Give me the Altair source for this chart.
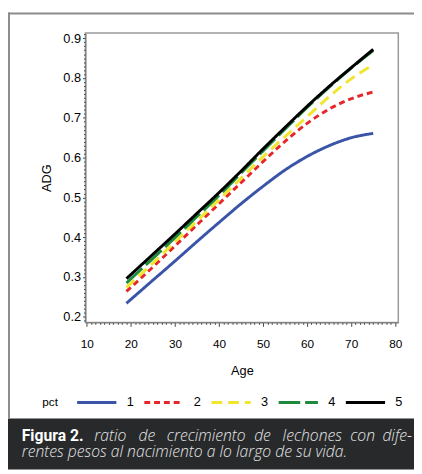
import altair as alt
import pandas as pd

# ---- data ----
ages = [19, 25, 30, 35, 40, 45, 50, 55, 60, 65, 70, 75]
pct1 = [0.234, 0.292, 0.340, 0.389, 0.437, 0.484, 0.528, 0.569, 0.603, 0.630, 0.650, 0.661]
pct2 = [0.264, 0.325, 0.378, 0.431, 0.484, 0.537, 0.590, 0.641, 0.686, 0.722, 0.748, 0.765]
pct3 = [0.274, 0.335, 0.388, 0.441, 0.494, 0.548, 0.602, 0.653, 0.703, 0.753, 0.798, 0.833]
pct4 = [0.285, 0.347, 0.399, 0.452, 0.505, 0.561, 0.617, 0.672, 0.726, 0.777, 0.825, 0.869]
pct5 = [0.296, 0.357, 0.408, 0.460, 0.512, 0.566, 0.622, 0.676, 0.729, 0.779, 0.826, 0.872]

series_names = ["1", "2", "3", "4", "5"]
series_colors = ["#3a55a8", "#e5262b", "#f0e62e", "#1d8a3c", "#000000"]
series_dashes = [[1, 0], [6, 4], [11, 6], [22, 5], [1, 0]]

x_minor = list(range(10, 81))
y_minor = [round(0.19 + 0.01 * i, 2) for i in range(73)]

legend_title = "pct"
caption_bold = "Figura 2."
caption_line1_words = ["ratio", "de", "crecimiento", "de", "lechones", "con", "dife-"]
caption_line2 = "rentes pesos al nacimiento a lo largo de su vida."

rows = []
for name, vals in zip(series_names, [pct1, pct2, pct3, pct4, pct5]):
    for a, v in zip(ages, vals):
        rows.append({"Age": a, "ADG": v, "pct": name})
df = pd.DataFrame(rows)

W, H = 319, 295
FONT = "Liberation Sans"

legend = alt.Legend(
    orient="none", direction="horizontal", legendX=-10, legendY=355,
    title=None,
    symbolType="stroke", symbolSize=1600, symbolStrokeWidth=3,
    labelFont=FONT, labelFontSize=13, labelColor="#000", labelOffset=9,
    columnPadding=3.5, padding=0,
)

x_axis = alt.Axis(
    values=x_minor, title="Age", titleFont=FONT, titleFontSize=13, titleFontWeight="normal",
    titleColor="#000", titlePadding=15,
    labelExpr="datum.value % 10 == 0 ? datum.value : ''",
    labelFont=FONT, labelFontSize=12, labelColor="#000", labelPadding=13,
    labelOverlap=False, labelFlush=False, labelBound=False,
    tickSize={"condition": {"test": "datum.value % 10 == 0", "value": 4}, "value": 2},
    tickColor="#444", domainColor="#777", grid=False,
)
y_axis = alt.Axis(
    values=y_minor, title="ADG", titleFont=FONT, titleFontSize=13, titleFontWeight="normal",
    titleColor="#000", titlePadding=10,
    labelExpr="abs(round(datum.value*100)) % 10 == 0 ? format(datum.value, '.1f') : ''",
    labelFont=FONT, labelFontSize=13, labelColor="#000", labelPadding=2,
    labelOverlap=False, labelFlush=False, labelBound=False,
    tickSize={"condition": {"test": "abs(round(datum.value*100)) % 10 == 0", "value": 3}, "value": 2},
    tickColor="#444", domainColor="#777", grid=False,
)

lines = alt.Chart(df).mark_line(strokeWidth=3, interpolate="monotone", strokeCap="butt").encode(
    x=alt.X("Age:Q", scale=alt.Scale(domain=[9.7, 80.7], nice=False, zero=False), axis=x_axis),
    y=alt.Y("ADG:Q", scale=alt.Scale(domain=[0.186, 0.913], nice=False, zero=False), axis=y_axis),
    color=alt.Color("pct:N", scale=alt.Scale(domain=series_names, range=series_colors), legend=legend),
    strokeDash=alt.StrokeDash("pct:N", scale=alt.Scale(domain=series_names, range=series_dashes), legend=legend),
)

one = pd.DataFrame({"k": [0]})

band = alt.Chart(one).mark_rect(color="#27292b", clip=False).encode(
    x=alt.value(-79), x2=alt.value(335), y=alt.value(393), y2=alt.value(445)
)
left_border = alt.Chart(one).mark_rule(color="#8c8c8c", strokeWidth=2, clip=False).encode(
    x=alt.value(-78), y=alt.value(-21), y2=alt.value(393)
)
top_border = alt.Chart(one).mark_rule(color="#8c8c8c", strokeWidth=2, clip=False).encode(
    x=alt.value(-79), x2=alt.value(335), y=alt.value(-20)
)
t_pct = alt.Chart(one).mark_text(
    align="left", baseline="middle", font=FONT, fontSize=12, color="#000", clip=False
).encode(x=alt.value(-44), y=alt.value(376), text=alt.value(legend_title))

t_bold = alt.Chart(one).mark_text(
    align="left", baseline="alphabetic", font="Roboto", fontSize=16, fontWeight="bold",
    color="#ffffff", clip=False
).encode(x=alt.value(-65), y=alt.value(416), text=alt.value(caption_bold))

ital = dict(baseline="alphabetic", font="Open Sans", fontSize=16, fontStyle="italic",
            fontWeight=300, color="#e6e6e6", clip=False)

# justified first caption line: word start positions (last word flush right)
word_x = [9, 54, 83, 172, 201, 270, 333]
word_layers = []
for i, (w, xp) in enumerate(zip(caption_line1_words, word_x)):
    al = "right" if i == len(caption_line1_words) - 1 else "left"
    word_layers.append(
        alt.Chart(one).mark_text(align=al, **ital).encode(
            x=alt.value(xp), y=alt.value(416), text=alt.value(w))
    )

t_line2 = alt.Chart(one).mark_text(align="left", **ital).encode(
    x=alt.value(-65), y=alt.value(432), text=alt.value(caption_line2))

chart = alt.layer(
    band, left_border, top_border, lines, t_pct, t_bold, *word_layers, t_line2
).properties(
    width=W, height=H,
    padding={"left": 79, "top": 21, "right": 16, "bottom": 150},
    autosize=alt.AutoSizeParams(type="none"),
    background="white",
).configure_view(stroke="#9a9a9a", strokeWidth=1.5)

chart.save("out.html", embed_options={"renderer": "svg", "actions": False})
